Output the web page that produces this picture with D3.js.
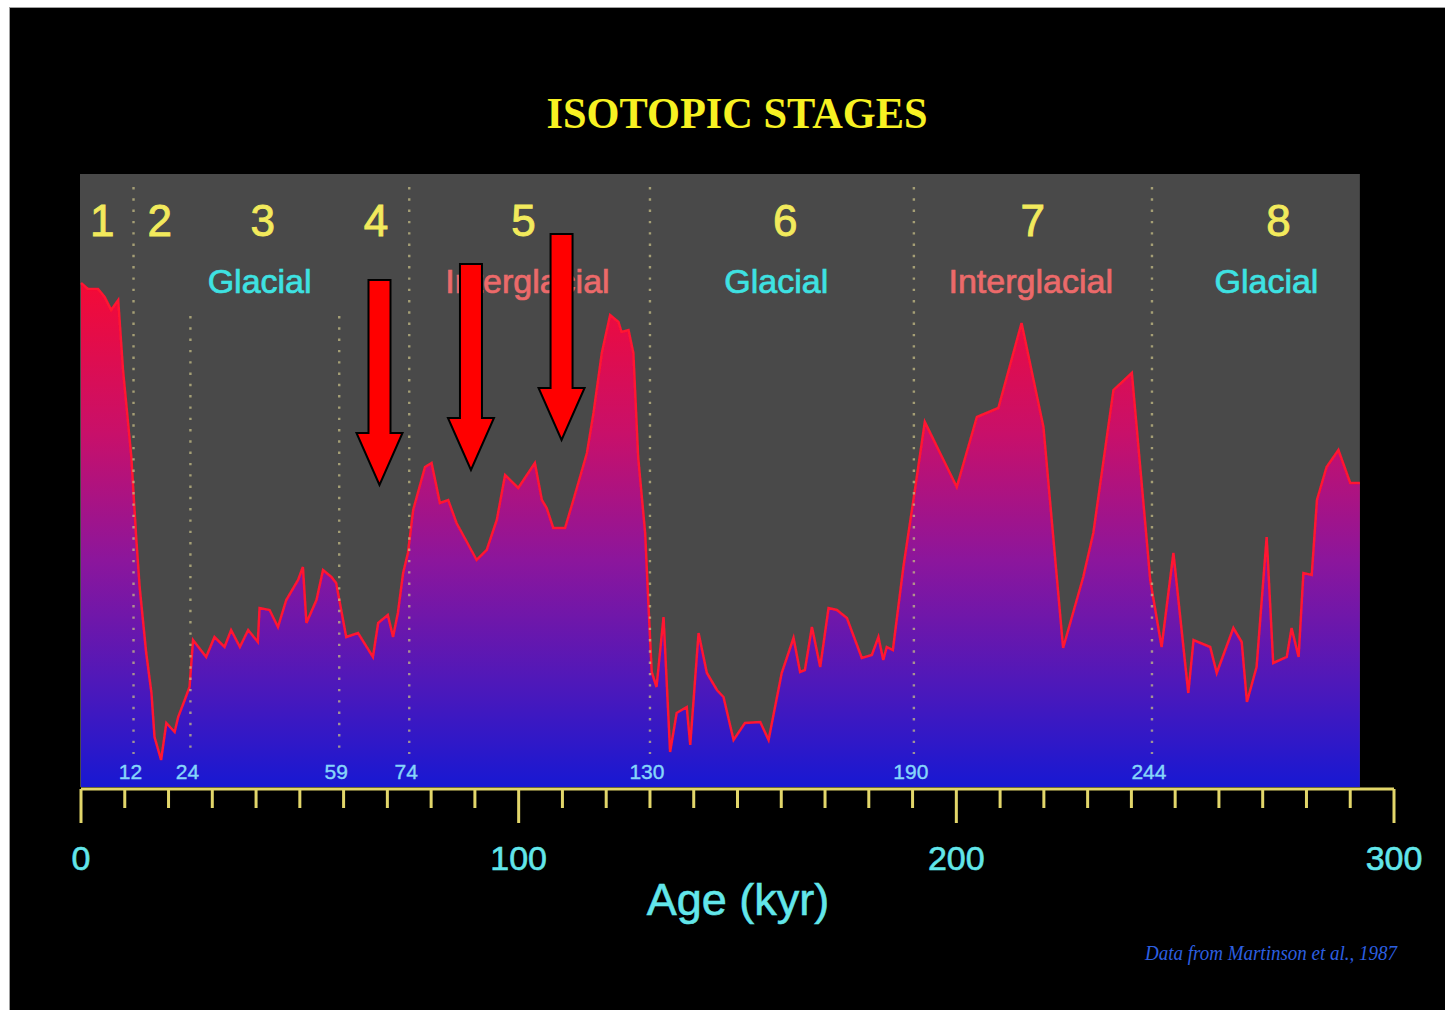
<!DOCTYPE html>
<html>
<head>
<meta charset="utf-8">
<script src="https://cdn.jsdelivr.net/npm/d3@7"></script>
<style>
  html, body { margin: 0; padding: 0; background: #ffffff; }
  svg { display: block; }
</style>
</head>
<body>
<svg id="chart" width="1445" height="1010"></svg>
<script>
// ---------------- DATA ----------------
// Age in kyr (x) and relative oxygen-isotope signal (arbitrary units, warm = high)
const ages = [0, 1.6, 3.9, 5.4, 6.9, 8.5, 9.6, 11.5, 12.6, 13.4, 14.9, 16.1, 16.8, 18.3, 19.5, 21.4, 22.2, 23.7, 24.8, 25.6,
  28.6, 30.5, 32.8, 34.3, 36.3, 38.2, 40.4, 40.8, 43.1, 45.0, 46.9, 49.6, 50.7, 51.5, 53.8, 55.3, 57.2, 58.3, 60.6, 63.3,
  66.7, 67.9, 70.1, 71.3, 72.4, 73.6, 74.7, 75.9, 78.6, 80.1, 82.0, 83.9, 85.8, 90.4, 92.7, 95.0, 96.9, 99.9, 103.7, 105.3,
  106.4, 107.9, 110.6, 112.5, 115.6, 117.1, 119.0, 120.9, 122.8, 123.5, 125.1, 126.2, 127.3, 128.9, 129.6, 130.4, 131.5, 133.1, 134.6, 136.1,
  138.4, 139.2, 141.1, 143.0, 145.3, 146.8, 149.1, 151.7, 155.2, 157.1, 160.1, 162.8, 164.3, 165.4, 167.0, 168.9, 170.8, 172.7, 175.0, 178.4,
  180.7, 182.2, 183.3, 184.1, 185.5, 187.9, 190.2, 192.8, 200.1, 204.7, 209.6, 214.9, 219.9, 224.4, 229.0, 231.3, 235.9, 240.1, 243.5, 244.3,
  246.9, 249.6, 253.0, 254.2, 258.0, 259.5, 263.3, 265.2, 266.4, 268.6, 270.9, 272.4, 275.5, 276.6, 278.2, 279.3, 281.2, 282.4, 284.6, 287.3,
  290.0, 292.2];
const signal = [50.4, 49.8, 49.8, 49.0, 47.7, 48.7, 41.7, 33.0, 25.0, 20.0, 13.4, 9.4, 5.0, 2.7, 6.4, 5.5, 7.0, 8.7, 10.0, 14.7,
  13.0, 15.0, 14.0, 15.7, 14.0, 15.7, 14.5, 17.9, 17.7, 16.0, 18.7, 20.7, 22.0, 16.4, 18.7, 21.7, 21.0, 20.4, 15.0, 15.4,
  13.0, 16.4, 17.2, 15.0, 17.4, 21.4, 23.4, 27.7, 32.0, 32.4, 28.4, 28.7, 26.4, 22.7, 23.7, 26.7, 31.2, 29.9, 32.4, 28.7,
  27.9, 25.9, 25.9, 28.7, 33.4, 37.4, 43.4, 47.2, 46.5, 45.5, 45.7, 43.4, 33.0, 25.4, 18.7, 11.5, 10.0, 17.0, 3.5, 7.4,
  8.0, 4.2, 15.4, 11.4, 9.7, 9.0, 4.7, 6.4, 6.5, 4.7, 11.4, 14.9, 11.5, 11.7, 16.0, 12.0, 17.9, 17.7, 16.9, 12.9,
  13.2, 15.0, 12.7, 14.0, 13.7, 22.0, 28.7, 36.5, 30.0, 37.0, 37.9, 46.4, 36.0, 13.9, 21.0, 25.4, 39.7, 41.4, 24.7, 20.7,
  14.0, 23.4, 9.4, 14.7, 14.0, 11.4, 15.9, 14.5, 8.5, 12.0, 25.0, 12.4, 13.0, 15.9, 13.0, 21.4, 21.2, 28.7, 32.0, 33.7,
  30.4, 30.4];

// Marine isotope stage boundaries (kyr) as drawn, and their printed labels
const boundaryAges = [12, 25, 59, 75, 130, 190.3, 244.7];
const boundaryLabels = ["12", "24", "59", "74", "130", "190", "244"];
const boundaryFull = [true, false, false, true, true, true, true]; // full-height divider or short one

// Stages
const stageNumbers = ["1", "2", "3", "4", "5", "6", "7", "8"];
const stageClimate = ["", "", "Glacial", "", "Interglacial", "Glacial", "Interglacial", "Glacial"];

// Arrows pointing at cold substages: age, tip value, tail value
const arrowAges = [68.2, 89.1, 109.8];
const arrowTips = [30.2, 31.7, 34.7];
const arrowTails = [50.7, 52.3, 55.3];

// Axis
const xTicksMajor = [0, 100, 200, 300];
const xDomain = [0, 300];
const yDomain = [0, 61.3];

const titleText = "ISOTOPIC STAGES";
const xTitle = "Age (kyr)";
const credit = "Data from Martinson et al., 1987";

// ---------------- DRAW ----------------
const svg = d3.select("#chart");
const W = 1445, H = 1010;
const sans = "'Liberation Sans', Arial, Helvetica, sans-serif";

// outer frame: white border top/left, black slide
svg.append("rect").attr("x", 0).attr("y", 0).attr("width", W).attr("height", H).attr("fill", "#ffffff");
svg.append("rect").attr("x", 9).attr("y", 7).attr("width", W).attr("height", H).attr("fill", "#a0a0a0");
svg.append("rect").attr("x", 10).attr("y", 8).attr("width", W).attr("height", H).attr("fill", "#000000");

const x = d3.scaleLinear().domain(xDomain).range([81, 1394]);
const y = d3.scaleLinear().domain(yDomain).range([787, 174]);

const data = ages.map((a, i) => ({ age: a, v: signal[i] }));
const dataEnd = d3.max(ages);

// grey panel
svg.append("rect")
  .attr("x", x(0) - 1).attr("y", y(yDomain[1]))
  .attr("width", x(dataEnd) - x(0) + 1).attr("height", y(0) - y(yDomain[1]))
  .attr("fill", "#494949");

// gradient
const defs = svg.append("defs");
const grad = defs.append("linearGradient").attr("id", "fillGrad")
  .attr("gradientUnits", "userSpaceOnUse")
  .attr("x1", 0).attr("x2", 0).attr("y1", y(d3.max(signal))).attr("y2", y(0));
[[0, "#f40a36"], [0.3, "#c8106a"], [0.55, "#8c169c"], [0.78, "#5218b8"], [1, "#1818d2"]]
  .forEach(([o, c]) => grad.append("stop").attr("offset", o).attr("stop-color", c));

const glow = defs.append("filter").attr("id", "glow").attr("x", "-5%").attr("y", "-5%").attr("width", "110%").attr("height", "110%");
glow.append("feGaussianBlur").attr("stdDeviation", 0.6);

const area = d3.area().x(d => x(d.age)).y0(y(0)).y1(d => y(d.v));
const line = d3.line().x(d => x(d.age)).y(d => y(d.v));

svg.append("path").datum(data).attr("d", area).attr("fill", "url(#fillGrad)");
svg.append("path").datum(data).attr("d", line)
  .attr("fill", "none").attr("stroke", "#ff1430").attr("stroke-width", 2.5)
  .attr("stroke-linejoin", "miter").attr("filter", "url(#glow)");

// dotted stage dividers
svg.append("g").selectAll("line").data(boundaryAges).join("line")
  .attr("x1", d => x(d)).attr("x2", d => x(d))
  .attr("y1", (d, i) => boundaryFull[i] ? 187 : 316)
  .attr("y2", 754)
  .attr("stroke", "#c4bc84").attr("stroke-opacity", 0.75)
  .attr("stroke-width", 2.4).attr("stroke-dasharray", "2.4 8.9");

// boundary labels
svg.append("g").selectAll("text").data(boundaryLabels).join("text")
  .attr("x", (d, i) => x(boundaryAges[i]) - 3)
  .attr("y", 779)
  .attr("text-anchor", "middle")
  .attr("font-family", sans)
  .attr("font-size", 21)
  .attr("fill", "#86d6fa").attr("stroke", "#86d6fa").attr("stroke-width", 0.4)
  .text(d => d);

// stage spans → midpoints
const edges = [0, 12, 24, 59, 74, 130, 190, 244, 300];
const stageMid = stageNumbers.map((s, i) => (edges[i] + edges[i + 1]) / 2);
const numNudge = [-5, 0, 0, 4, -4, 4, 2, 7];
const labNudge = [0, 0, -3, 0, 0, -5, 0, -5];

svg.append("g").selectAll("text").data(stageNumbers).join("text")
  .attr("x", (d, i) => x(stageMid[i]) + numNudge[i])
  .attr("y", 236)
  .attr("text-anchor", "middle")
  .attr("font-family", sans)
  .attr("font-size", 44)
  .attr("fill", "#f2ea5c").attr("stroke", "#f2ea5c").attr("stroke-width", 0.9)
  .text(d => d);

svg.append("g").selectAll("text").data(stageClimate).join("text")
  .attr("x", (d, i) => x(stageMid[i]) + labNudge[i])
  .attr("y", 293)
  .attr("text-anchor", "middle")
  .attr("font-family", sans)
  .attr("font-size", 34)
  .attr("fill", d => d === "Glacial" ? "#3ee2e2" : "#ec6a6a")
  .attr("stroke", d => d === "Glacial" ? "#3ee2e2" : "#ec6a6a").attr("stroke-width", 0.7)
  .text(d => d);

// arrows
const shaftHalf = 11, headHalf = 23, headLen = 52;
svg.append("g").selectAll("path").data(arrowAges).join("path")
  .attr("d", (a, i) => {
    const cx = x(a), tip = y(arrowTips[i]), tail = y(arrowTails[i]);
    const hb = tip - headLen;
    return `M${cx - shaftHalf},${tail} L${cx + shaftHalf},${tail} L${cx + shaftHalf},${hb} L${cx + headHalf},${hb} L${cx},${tip} L${cx - headHalf},${hb} L${cx - shaftHalf},${hb} Z`;
  })
  .attr("fill", "#ff0000").attr("stroke", "#000000").attr("stroke-width", 2).attr("stroke-linejoin", "miter");

// x axis
const axisColor = "#e2d66a";
const gx = svg.append("g");
gx.append("line").attr("x1", x(0)).attr("x2", x(300)).attr("y1", 789).attr("y2", 789)
  .attr("stroke", axisColor).attr("stroke-width", 3);
gx.selectAll("line.tick").data(d3.range(0, 301, 10)).join("line").attr("class", "tick")
  .attr("x1", d => x(d)).attr("x2", d => x(d))
  .attr("y1", 789).attr("y2", d => xTicksMajor.includes(d) ? 823 : 808)
  .attr("stroke", axisColor).attr("stroke-width", 3);
gx.selectAll("text").data(xTicksMajor).join("text")
  .attr("x", d => x(d)).attr("y", 870)
  .attr("text-anchor", "middle")
  .attr("font-family", sans)
  .attr("font-size", 34)
  .attr("fill", "#62e6ea").attr("stroke", "#62e6ea").attr("stroke-width", 0.6)
  .text(d => d);

svg.append("text").attr("x", 738).attr("y", 915).attr("text-anchor", "middle")
  .attr("font-family", sans)
  .attr("font-size", 45).attr("fill", "#62e6ea").attr("stroke", "#62e6ea").attr("stroke-width", 0.6)
  .text(xTitle);

// title
svg.append("text").attr("x", 737).attr("y", 128).attr("text-anchor", "middle")
  .attr("font-family", "'Liberation Serif', 'Times New Roman', serif")
  .attr("font-weight", "bold").attr("font-size", 45)
  .attr("textLength", 381).attr("lengthAdjust", "spacingAndGlyphs")
  .attr("fill", "#f7f122").text(titleText);

// credit
svg.append("text").attr("x", 1397).attr("y", 960).attr("text-anchor", "end")
  .attr("font-family", "'Liberation Serif', 'Times New Roman', serif")
  .attr("font-style", "italic").attr("font-size", 20)
  .attr("textLength", 252).attr("lengthAdjust", "spacingAndGlyphs")
  .attr("fill", "#2c5fe0").text(credit);
</script>
</body>
</html>
